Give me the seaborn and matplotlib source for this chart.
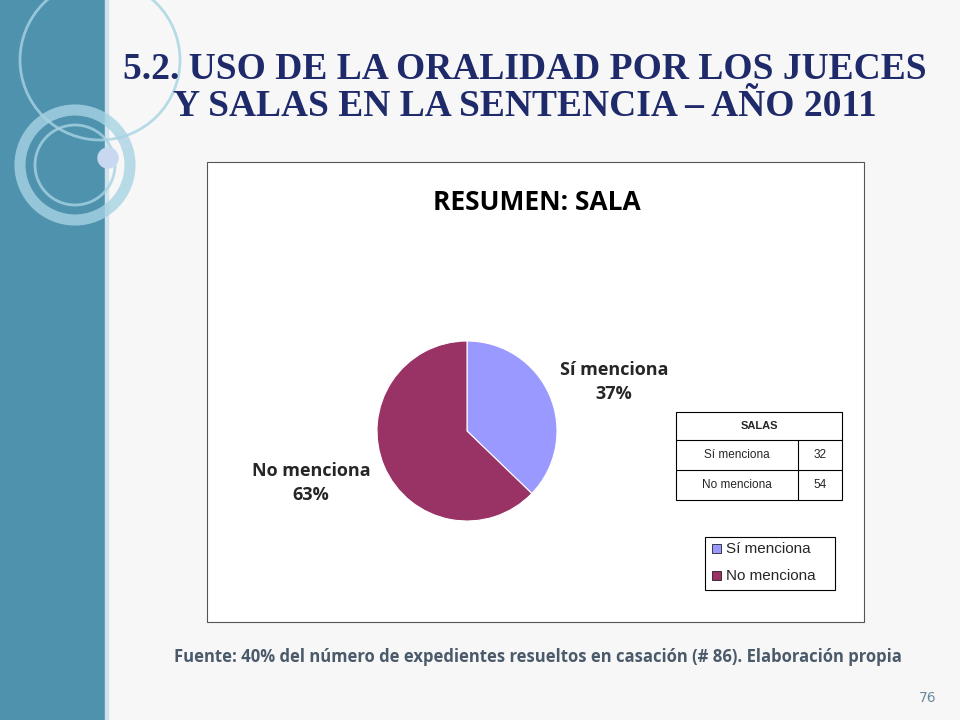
import matplotlib
matplotlib.use("Agg")
import matplotlib.pyplot as plt
import matplotlib.patches as mp
import seaborn as sns

categories = ["Sí menciona", "No menciona"]
counts = [32, 54]
pct_labels = ["37%", "63%"]
colors = ["#9999FF", "#993366"]

sns.set_theme(style="white")
W, H = 960, 720
fig = plt.figure(figsize=(9.6, 7.2), dpi=100)
fig.patch.set_facecolor("#f7f7f7")
bg = fig.add_axes([0, 0, 1, 1]); bg.set_xlim(0, W); bg.set_ylim(H, 0); bg.axis("off")
bg.add_patch(mp.Rectangle((0, 0), 105, H, color="#4f92ad"))
bg.add_patch(mp.Rectangle((105, 0), 3, H, color="#cfe3ec"))
for cx, cy, r, lw in [(100, 60, 80, 2), (75, 165, 55, 8), (75, 165, 40, 2)]:
    bg.add_patch(mp.Circle((cx, cy), r, fill=False, ec="#a8d3e3", lw=lw, alpha=0.8))
bg.add_patch(mp.Circle((108, 158), 10, color="#c8d8f0"))
bg.add_patch(mp.Circle((126, 143), 4, fill=False, ec="#c8d8f0"))
bg.text(525, 88, "5.2. USO DE LA ORALIDAD POR LOS JUECES\nY SALAS EN LA SENTENCIA – AÑO 2011",
        ha="center", va="center", fontsize=27, fontweight="bold", family="Liberation Serif",
        color="#1f2a6b", linespacing=1.1)
bg.add_patch(mp.Rectangle((207, 162), 657, 460, fc="white", ec="#555555", lw=0.8))
bg.text(537, 203, "RESUMEN: SALA", ha="center", va="center", fontsize=19, fontweight="bold",
        family="Open Sans", color="black")
bg.text(538, 657, "Fuente: 40% del número de expedientes resueltos en casación (# 86). Elaboración propia",
        ha="center", va="center", fontsize=12, fontweight="bold", family="Open Sans", color="#4a5a6a")
bg.text(928, 698, "76", ha="center", va="center", fontsize=10, color="#6a8aa0")
# table
tx = [676, 798, 842]; ty = [412, 440, 470, 500]
bg.add_patch(mp.Rectangle((676, 412), 166, 88, fill=False, ec="black", lw=0.8))
for y in ty[1:3]:
    bg.plot([676, 842], [y, y], color="black", lw=0.8)
bg.plot([798, 798], [440, 500], color="black", lw=0.8)
bg.text(759, 426, "SALAS", ha="center", va="center", fontsize=8, fontweight="bold", family="Liberation Sans")
for i, (c, n) in enumerate(zip(categories, counts)):
    yy = (ty[i+1] + ty[i+2]) / 2
    bg.text(737, yy, c, ha="center", va="center", fontsize=8.5, family="Liberation Sans")
    bg.text(820, yy, str(n), ha="center", va="center", fontsize=8.5, family="Liberation Sans")
# legend
bg.add_patch(mp.Rectangle((705, 537), 130, 53, fill=False, ec="black", lw=0.8))
for i, (c, col) in enumerate(zip(categories, colors)):
    yy = 549 + i * 27
    bg.add_patch(mp.Rectangle((712, yy - 5), 9, 9, fc=col, ec="black", lw=0.5))
    bg.text(726, yy, c, ha="left", va="center", fontsize=11, family="Liberation Sans")
# pie
r = 90; cx, cy = 467, 431
ax = fig.add_axes([(cx - r) / W, 1 - (cy + r) / H, 2 * r / W, 2 * r / H])
ax.pie(counts, colors=colors, startangle=90, counterclock=False,
       wedgeprops=dict(edgecolor="white", linewidth=0.8))
ax.set_aspect("auto"); ax.set_xlim(-1, 1); ax.set_ylim(-1, 1); ax.axis("off")
bg.text(614, 382, categories[0] + "\n" + pct_labels[0], ha="center", va="center", fontsize=13,
        fontweight="bold", family="Open Sans", linespacing=1.4)
bg.text(311, 483, categories[1] + "\n" + pct_labels[1], ha="center", va="center", fontsize=13,
        fontweight="bold", family="Open Sans", linespacing=1.4)
fig.savefig("out.png", dpi=100)
